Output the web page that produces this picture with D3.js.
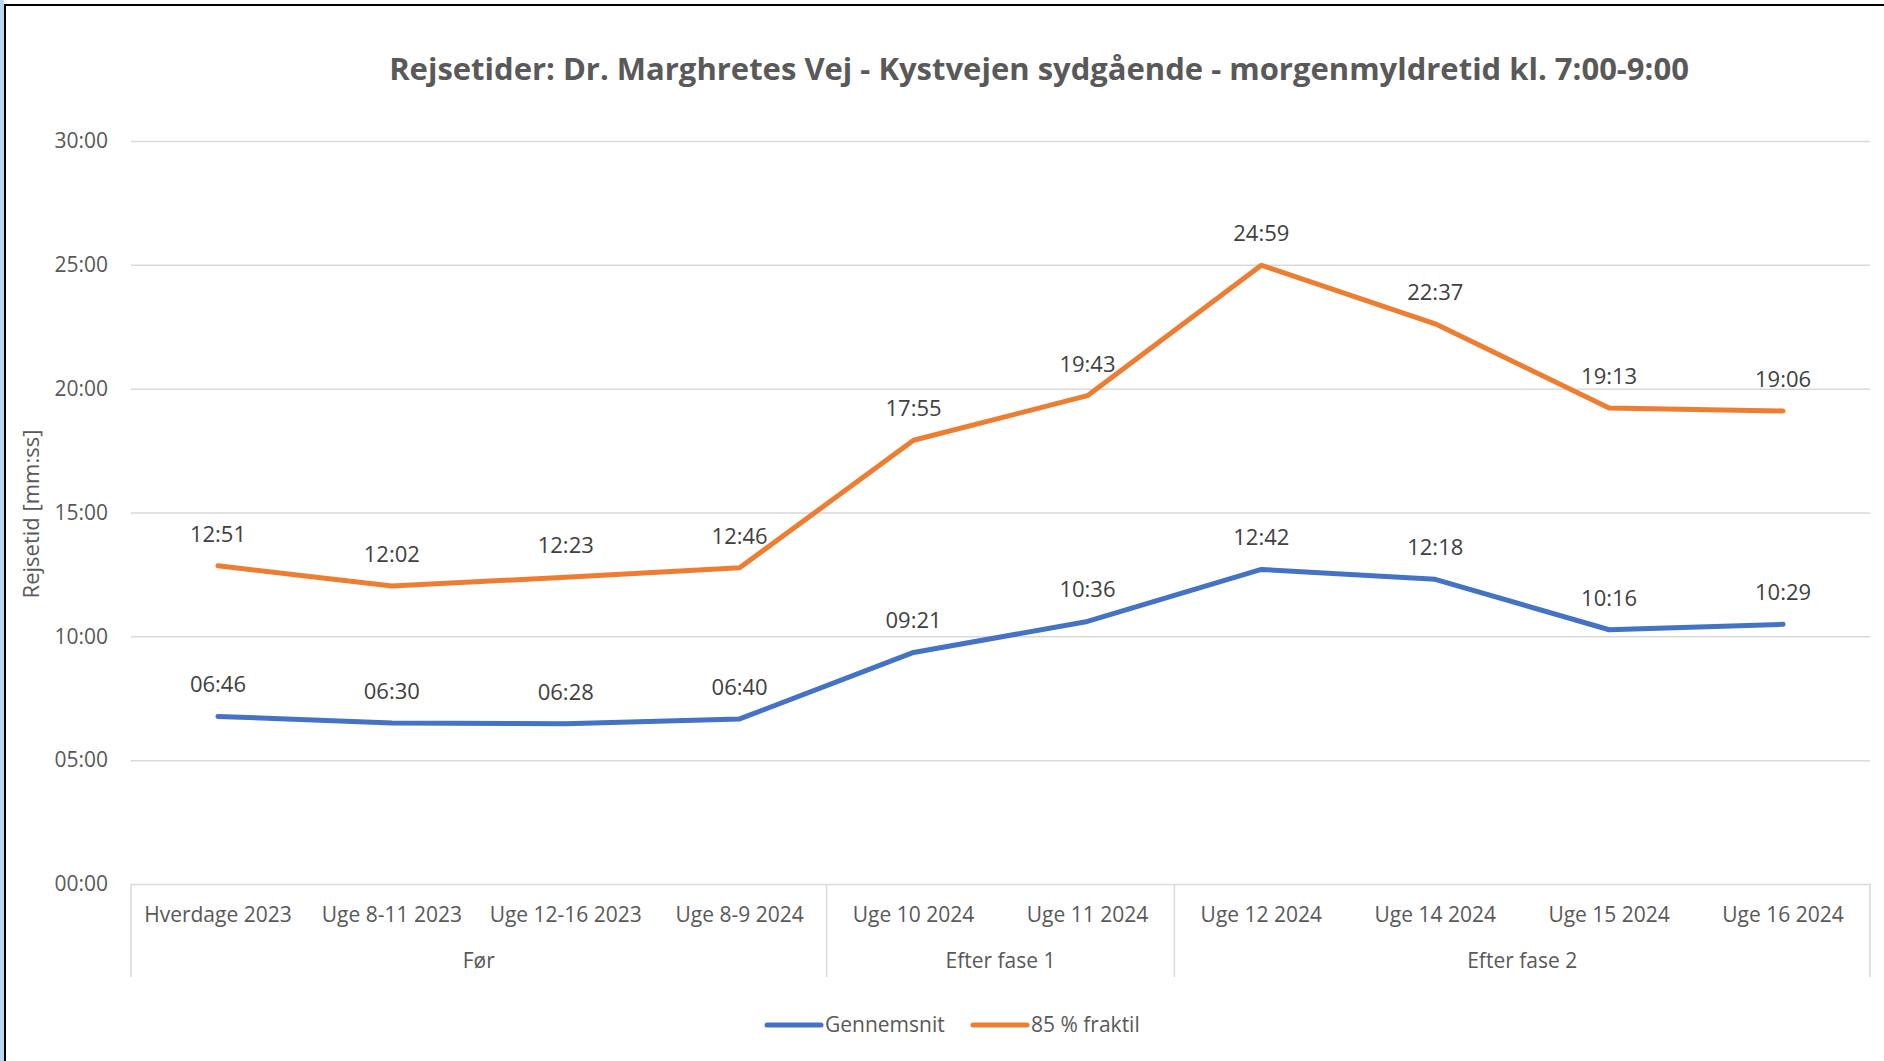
<!DOCTYPE html>
<html>
<head>
<meta charset="utf-8">
<script src="https://cdn.jsdelivr.net/npm/d3@7"></script>
<style>
  body { margin: 0; background: #fff; }
  svg text { font-family: "Open Sans", sans-serif; }
  .title { font-weight: bold; fill: #595959; font-size: 31px; }
  .tick text { fill: #595959; font-size: 21px; }
  .catlabel, .grouplabel, .legend { fill: #595959; font-size: 21px; }
  .axistitle { fill: #595959; font-size: 22px; }
  .datalabel { fill: #404040; font-size: 22px; }
</style>
</head>
<body>
<svg id="chart" width="1884" height="1061"></svg>
<script>
// categories and groups
const categories = ["Hverdage 2023", "Uge 8-11 2023", "Uge 12-16 2023", "Uge 8-9 2024",
    "Uge 10 2024", "Uge 11 2024", "Uge 12 2024", "Uge 14 2024", "Uge 15 2024", "Uge 16 2024"];
const groups = [
    {name: "Før", first: 0, last: 3},
    {name: "Efter fase 1", first: 4, last: 5},
    {name: "Efter fase 2", first: 6, last: 9}
];
// travel times, mm:ss
const gennemsnit = ["06:46", "06:30", "06:28", "06:40", "09:21", "10:36", "12:42", "12:18", "10:16", "10:29"];
const fraktil85 = ["12:51", "12:02", "12:23", "12:46", "17:55", "19:43", "24:59", "22:37", "19:13", "19:06"];
const yTicks = ["00:00", "05:00", "10:00", "15:00", "20:00", "25:00", "30:00"];

const series = [
    {name: "Gennemsnit", values: gennemsnit, color: "#4472C4"},
    {name: "85 % fraktil", values: fraktil85, color: "#ED7D31"}
];

function toMin(s){
    let p = s.split(":");
    return +p[0] + (+p[1]) / 60;
}

let svg = d3.select("#chart");

// screenshot frame
svg.append("rect").attr("x", 0).attr("y", 0).attr("width", 4).attr("height", 1061).attr("fill", "#bcd6ec");
svg.append("line").attr("x1", 5).attr("x2", 5).attr("y1", 4).attr("y2", 1061)
    .attr("stroke", "#000").attr("stroke-width", 2);
svg.append("line").attr("x1", 4).attr("x2", 1884).attr("y1", 5).attr("y2", 5)
    .attr("stroke", "#000").attr("stroke-width", 2);

const plotLeft = 131, plotRight = 1870, plotTop = 141, plotBottom = 884;

svg.append("text").attr("class", "title").attr("x", 1039).attr("y", 80)
    .attr("text-anchor", "middle")
    .text("Rejsetider: Dr. Marghretes Vej - Kystvejen sydgående - morgenmyldretid kl. 7:00-9:00");

let xScale = d3.scaleBand().domain(categories).range([plotLeft, plotRight]).padding(0);
let yScale = d3.scaleLinear().domain([0, 30]).range([plotBottom, plotTop]);

let yAxis = d3.axisLeft(yScale).tickValues(yTicks.map(toMin))
    .tickFormat((d, i) => yTicks[i]).tickSize(-(plotRight - plotLeft)).tickPadding(23);
let y = svg.append("g").attr("transform", "translate(" + plotLeft + ",0)").call(yAxis);
y.select(".domain").remove();
y.selectAll(".tick line").attr("stroke", "#d9d9d9").attr("stroke-width", 1.5);

svg.append("text").attr("class", "axistitle")
    .attr("transform", "translate(39,514) rotate(-90)")
    .attr("text-anchor", "middle").text("Rejsetid [mm:ss]");

// category axis box
let seps = [0].concat(groups.map(g => g.last + 1));
svg.selectAll(".sep").data(seps).join("line").attr("class", "sep")
    .attr("x1", d => plotLeft + d * xScale.step()).attr("x2", d => plotLeft + d * xScale.step())
    .attr("y1", plotBottom).attr("y2", 977)
    .attr("stroke", "#d9d9d9").attr("stroke-width", 1.5);

svg.selectAll(".catlabel").data(categories).join("text").attr("class", "catlabel")
    .attr("x", d => xScale(d) + xScale.bandwidth() / 2).attr("y", 922)
    .attr("text-anchor", "middle").text(d => d);

svg.selectAll(".grouplabel").data(groups).join("text").attr("class", "grouplabel")
    .attr("x", d => (xScale(categories[d.first]) + xScale(categories[d.last]) + xScale.bandwidth()) / 2)
    .attr("y", 968).attr("text-anchor", "middle").text(d => d.name);

let line = d3.line()
    .x((d, i) => xScale(categories[i]) + xScale.bandwidth() / 2)
    .y(d => yScale(toMin(d)));

series.forEach(s => {
    svg.append("path").attr("d", line(s.values)).attr("fill", "none")
        .attr("stroke", s.color).attr("stroke-width", 5)
        .attr("stroke-linejoin", "round").attr("stroke-linecap", "round");
    svg.selectAll(null).data(s.values).join("text").attr("class", "datalabel")
        .attr("x", (d, i) => xScale(categories[i]) + xScale.bandwidth() / 2)
        .attr("y", d => yScale(toMin(d)) - 24)
        .attr("text-anchor", "middle").text(d => d);
});

// legend
let lx = [767, 973];
series.forEach((s, i) => {
    svg.append("line").attr("x1", lx[i]).attr("x2", lx[i] + 54).attr("y1", 1025).attr("y2", 1025)
        .attr("stroke", s.color).attr("stroke-width", 5).attr("stroke-linecap", "round");
    svg.append("text").attr("class", "legend").attr("x", lx[i] + 58).attr("y", 1032).text(s.name);
});
</script>
</body>
</html>
